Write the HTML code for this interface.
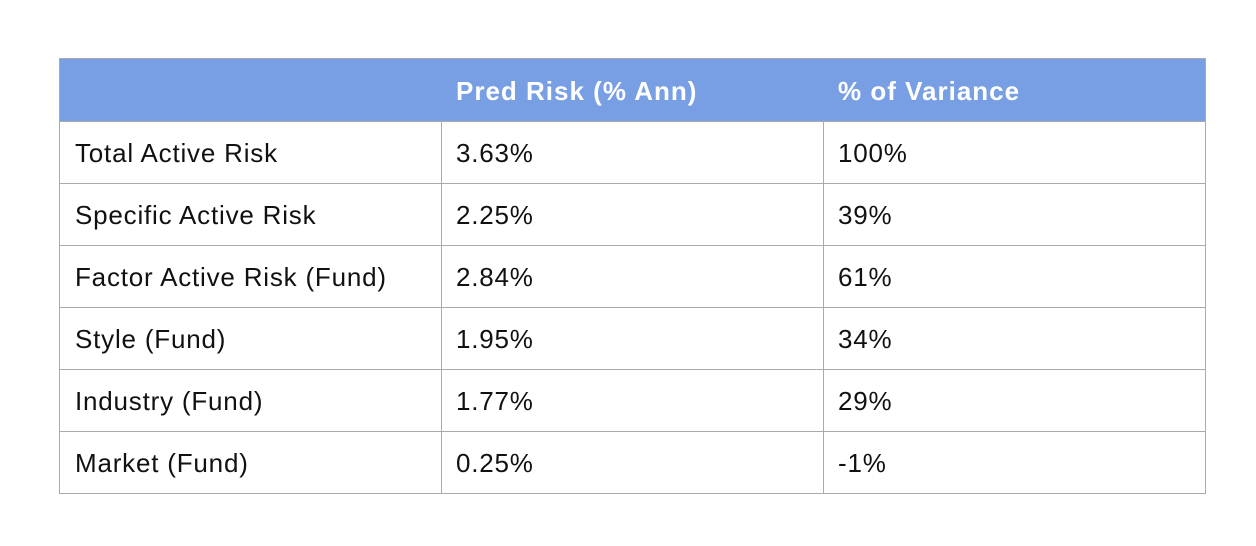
<!DOCTYPE html>
<html><head><meta charset="utf-8">
<style>
html,body{margin:0;padding:0;background:#fff;width:1256px;height:546px;overflow:hidden}
.c{position:absolute;box-sizing:border-box;font-family:"Liberation Sans",sans-serif;font-size:26px;letter-spacing:0.8px;color:#111;display:flex;align-items:center;padding-left:15px;padding-top:3px;border-right:1.5px solid #ababab;border-bottom:1.5px solid #ababab;white-space:nowrap}
.h{background:#789fe4;color:#fff;font-weight:bold;letter-spacing:1px}
</style></head><body>
<div id="t"></div>
<script>
const headers = ["", "Pred Risk (% Ann)", "% of Variance"];
const rows = [
 ["Total Active Risk","3.63%","100%"],
 ["Specific Active Risk","2.25%","39%"],
 ["Factor Active Risk (Fund)","2.84%","61%"],
 ["Style (Fund)","1.95%","34%"],
 ["Industry (Fund)","1.77%","29%"],
 ["Market (Fund)","0.25%","-1%"]
];
const t=document.getElementById('t');
const xs=[59,441,823,1205];
const top0=58, hh=63, rh=62;
function cell(x0,x1,y0,h,txt,cls,name){
  const d=document.createElement('div');
  d.className='c '+cls;
  d.style.left=x0+'px';d.style.top=y0+'px';
  d.style.width=(x1-x0+1)+'px';d.style.height=(h+1)+'px';
  if(x0===59){d.style.borderLeft='1.5px solid #ababab';}
  if(y0===top0){d.style.borderTop='1.5px solid #ababab';}
  d.textContent=txt;
  
  
  t.appendChild(d);
}
headers.forEach((h,i)=>cell(xs[i],xs[i+1],top0,hh,h,'h','header-cell'));
rows.forEach((r,ri)=>r.forEach((v,ci)=>cell(xs[ci],xs[ci+1],top0+hh+ri*rh,rh,v,'','table-cell')));
</script>
</body></html>
